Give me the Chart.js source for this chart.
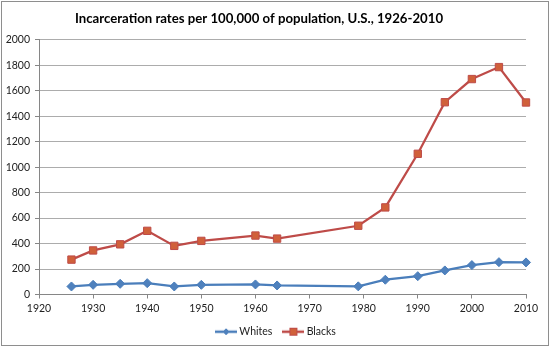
<!DOCTYPE html>
<html>
<head>
<meta charset="utf-8">
<script src="https://cdn.jsdelivr.net/npm/chart.js@4/dist/chart.umd.min.js"></script>
<style>
html,body{margin:0;padding:0;background:#fff;}
#wrap{position:relative;width:554px;height:354px;}
</style>
</head>
<body>
<div id="wrap"><canvas id="c" width="554" height="354"></canvas></div>
<script>
const years = [1926, 1930, 1935, 1940, 1945, 1950, 1960, 1964, 1979, 1984, 1990, 1995, 2000, 2005, 2010];
const whites = [63, 76, 84, 89, 63, 76, 79, 71, 64, 116, 144, 189, 231, 254, 252];
const blacks = [274, 346, 394, 500, 382, 421, 463, 439, 540, 684, 1105, 1510, 1692, 1786, 1508];
const xTicks = [1920, 1930, 1940, 1950, 1960, 1970, 1980, 1990, 2000, 2010];
const yTicks = [0, 200, 400, 600, 800, 1000, 1200, 1400, 1600, 1800, 2000];
const titleText = 'Incarceration rates per 100,000 of population, U.S., 1926-2010';
const seriesNames = ['Whites', 'Blacks'];

const blueLine = '#4a7ebb', blueFill = '#4f81bd';
const redLine = '#be4b48', redFill = '#d0603a';

function legendImg(line, fill, border, shape) {
  const c = document.createElement('canvas');
  c.width = 22; c.height = 10;
  const g = c.getContext('2d');
  g.strokeStyle = line; g.lineWidth = 2.5;
  g.beginPath(); g.moveTo(0, 5); g.lineTo(22, 5); g.stroke();
  g.fillStyle = fill; g.strokeStyle = border; g.lineWidth = 1;
  if (shape === 'diamond') {
    g.beginPath(); g.moveTo(11, 2); g.lineTo(14, 5); g.lineTo(11, 8); g.lineTo(8, 5); g.closePath(); g.fill(); g.stroke();
  } else {
    g.fillRect(7.5, 1.5, 7, 7); g.strokeRect(7.5, 1.5, 7, 7);
  }
  return c;
}
const imgW = legendImg(blueLine, blueFill, blueLine, 'diamond');
const imgB = legendImg(redLine, redFill, redLine, 'square');

const frame = {
  id: 'frame',
  afterLayout(chart) {
    // Excel centres the title slightly left of the canvas centre
    if (chart.titleBlock) { chart.titleBlock.left = 0; chart.titleBlock.right = 518; }
  },
  beforeDraw(chart) {
    const ctx = chart.ctx;
    ctx.save();
    ctx.fillStyle = '#fff';
    ctx.fillRect(0, 0, chart.width, chart.height);
    ctx.strokeStyle = '#8e8e8e';
    ctx.lineWidth = 1;
    ctx.strokeRect(1.5, 1.5, 547, 344);
    ctx.restore();
  }
};

const font = "Lato, 'Open Sans', sans-serif";
const plain = v => String(v);

new Chart(document.getElementById('c'), {
  type: 'scatter',
  data: {
    datasets: [
      {
        label: seriesNames[0],
        data: years.map((y, i) => ({x: y, y: whites[i]})),
        showLine: true, clip: false,
        borderColor: blueLine, backgroundColor: blueFill,
        borderWidth: 2.25,
        pointStyle: 'rectRot', pointRadius: 4.5, pointHoverRadius: 4.5,
        pointBorderColor: blueLine, pointBackgroundColor: blueFill, pointBorderWidth: 1
      },
      {
        label: seriesNames[1],
        data: years.map((y, i) => ({x: y, y: blacks[i]})),
        showLine: true, clip: false,
        borderColor: redLine, backgroundColor: redFill,
        borderWidth: 2.25,
        pointStyle: 'rect', pointRadius: 5.2, pointHoverRadius: 5.2,
        pointBorderColor: redLine, pointBackgroundColor: redFill, pointBorderWidth: 1
      }
    ]
  },
  options: {
    responsive: false,
    animation: false,
    events: [],
    layout: {padding: {top: 0, left: 0, right: 0, bottom: 7}},
    plugins: {
      title: {
        display: true, text: titleText, color: '#000',
        font: {family: font, size: 13.2, weight: 'bold'},
        padding: {top: 11, bottom: 13}
      },
      legend: {
        position: 'bottom',
        labels: {
          usePointStyle: true, pointStyleWidth: 16,
          color: '#222', font: {family: font, size: 10.5}, padding: 13,
          generateLabels(chart) {
            const items = Chart.defaults.plugins.legend.labels.generateLabels(chart);
            items[0].pointStyle = imgW;
            items[1].pointStyle = imgB;
            return items;
          }
        }
      },
      tooltip: {enabled: false}
    },
    scales: {
      x: {
        type: 'linear', min: 1920, max: 2010,
        afterBuildTicks(s) { s.ticks = xTicks.map(v => ({value: v})); },
        afterFit(s) { s.height = 19; },
        grid: {display: true, drawOnChartArea: false, drawTicks: true, tickLength: 4, color: '#868686'},
        border: {color: '#868686', width: 1},
        ticks: {color: '#222', font: {family: font, size: 10.5}, padding: 4, maxRotation: 0, callback: plain}
      },
      y: {
        min: 0, max: 2000,
        afterBuildTicks(s) { s.ticks = yTicks.map(v => ({value: v})); },
        afterFit(s) { s.width = 39; },
        grid: {color: '#acacac', lineWidth: 1, drawTicks: true, tickLength: 4,
               tickColor: '#868686'},
        border: {color: '#868686', width: 1},
        ticks: {color: '#222', font: {family: font, size: 10.5}, padding: 5, callback: plain}
      },
      spacer: {
        type: 'linear', position: 'right', display: true,
        grid: {display: false, drawTicks: false},
        border: {display: false},
        ticks: {display: false},
        afterFit(s) { s.width = 28; }
      }
    }
  },
  plugins: [frame]
});
</script>
</body>
</html>
